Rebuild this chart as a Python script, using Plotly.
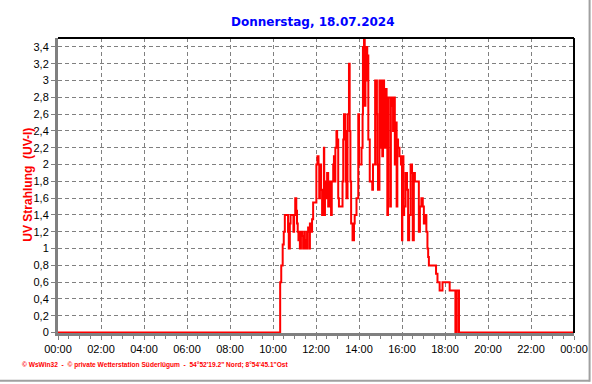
import plotly.graph_objects as go

# ---- data -------------------------------------------------------------
times = ["00:00", "10:20", "10:23", "10:27", "10:30", "10:33", "10:42", "10:44", "10:47", "10:49",
         "10:57", "10:59", "11:02", "11:05", "11:07", "11:09", "11:11", "11:13", "11:15", "11:18",
         "11:21", "11:24", "11:27", "11:29", "11:32", "11:35", "11:38", "11:41", "11:43", "11:46",
         "11:49", "11:52", "12:01", "12:04", "12:07", "12:09", "12:11", "12:14", "12:17", "12:22",
         "12:23", "12:25", "12:28", "12:31", "12:34", "12:37", "12:39", "12:42", "12:44", "12:48",
         "12:50", "12:52", "12:54", "12:57", "12:59", "13:02", "13:04", "13:10", "13:14", "13:16",
         "13:18", "13:21", "13:23", "13:25", "13:28", "13:32", "13:34", "13:36", "13:38", "13:42",
         "13:46", "13:48", "13:53", "13:58", "14:00", "14:04", "14:07", "14:10", "14:11", "14:14",
         "14:16", "14:18", "14:20", "14:23", "14:25", "14:26", "14:30", "14:33", "14:37", "14:39",
         "14:45", "14:48", "14:50", "14:51", "14:53", "14:57", "15:01", "15:03", "15:05", "15:07",
         "15:10", "15:13", "15:17", "15:19", "15:21", "15:23", "15:27", "15:29", "15:33", "15:35",
         "15:38", "15:40", "15:42", "15:45", "15:47", "15:49", "15:53", "15:57", "16:00", "16:01",
         "16:04", "16:06", "16:10", "16:14", "16:17", "16:20", "16:24", "16:28", "16:30", "16:33",
         "16:36", "16:40", "16:47", "16:50", "16:54", "16:58", "17:01", "17:04", "17:08", "17:11",
         "17:13", "17:15", "17:35", "17:39", "17:45", "17:53", "18:13", "18:29", "18:33", "18:39",
         "24:00"]
uv = [0.0, 0.6, 0.8, 1.05, 1.2, 1.4, 1.2, 1.0, 1.3, 1.4,
      1.2, 1.4, 1.6, 1.45, 1.3, 1.2, 1.1, 1.2, 1.0, 1.2,
      1.15, 1.0, 1.2, 1.1, 1.0, 1.2, 1.25, 1.0, 1.3, 1.2,
      1.35, 1.55, 2.0, 2.1, 2.0, 1.6, 2.0, 1.7, 1.4, 2.2,
      1.4, 1.8, 1.6, 1.9, 1.5, 1.8, 1.7, 1.4, 1.8, 2.0,
      2.1, 1.8, 2.2, 2.4, 2.3, 1.6, 1.5, 1.5, 1.8, 2.3,
      2.6, 2.4, 1.8, 1.6, 2.6, 3.2, 2.4, 1.8, 1.3, 1.1,
      1.3, 1.4, 1.6, 2.6, 2.0, 2.0, 2.2, 2.6, 3.4, 3.5,
      2.7, 3.4, 3.4, 3.0, 3.3, 2.3, 1.8, 1.8, 1.7, 2.0,
      3.0, 3.0, 2.6, 2.0, 1.7, 3.0, 2.2, 3.0, 2.1, 3.0,
      2.2, 2.9, 2.2, 1.4, 2.8, 2.8, 1.5, 2.8, 2.7, 2.4,
      2.8, 2.0, 2.5, 1.5, 2.3, 2.2, 2.1, 2.0, 1.1, 2.1,
      1.4, 1.5, 1.9, 1.7, 1.1, 1.4, 2.0, 1.9, 1.1, 1.9,
      1.8, 1.8, 1.2, 1.5, 1.6, 1.5, 1.3, 1.4, 1.2, 1.0,
      0.9, 0.8, 0.7, 0.6, 0.5, 0.6, 0.5, 0.0, 0.5, 0.0,
      0.0]

x_tick_labels = ["00:00", "02:00", "04:00", "06:00", "08:00", "10:00", "12:00",
                 "14:00", "16:00", "18:00", "20:00", "22:00", "00:00"]
y_tick_values = [0, 0.2, 0.4, 0.6, 0.8, 1.0, 1.2, 1.4, 1.6, 1.8, 2.0, 2.2, 2.4,
                 2.6, 2.8, 3.0, 3.2, 3.4]
y_tick_labels = ["0", "0,2", "0,4", "0,6", "0,8", "1", "1,2", "1,4", "1,6", "1,8",
                 "2", "2,2", "2,4", "2,6", "2,8", "3", "3,2", "3,4"]

title_text = "Donnerstag, 18.07.2024"
y_title = "UV Strahlung  (UV-I)"
footer = "© WsWin32  -  © private Wetterstation Süderlügum  -  54°52'19.2\" Nord; 8°54'45.1\"Ost"


def to_min(t):
    h, m = t.split(":")
    return int(h) * 60 + int(m)


x = [to_min(t) for t in times]
x_tick_values = [i * 120 for i in range(len(x_tick_labels))]

# ---- figure -----------------------------------------------------------
fig = go.Figure()
fig.add_trace(go.Scatter(x=x, y=uv, mode="lines", line=dict(color="#ff0000", width=2, shape="hv"),
                         hoverinfo="skip", showlegend=False))

grid_col = "#808080"
font = "Liberation Sans, Arial, sans-serif"

fig.update_layout(
    width=592, height=384,
    margin=dict(l=58, r=18, t=38, b=51, autoexpand=False),
    paper_bgcolor="white", plot_bgcolor="white",
    font=dict(family=font, size=11, color="black"),
    showlegend=False,
)
fig.update_xaxes(
    range=[0, 1440], tickmode="array", tickvals=x_tick_values, ticktext=x_tick_labels,
    showgrid=True, gridcolor=grid_col, griddash="4px,3px", gridwidth=1,
    showline=True, linecolor=grid_col, linewidth=3,
    ticks="outside", ticklen=4, tickcolor=grid_col, tickwidth=1,
    minor=dict(tickmode="linear", tick0=0, dtick=30, ticks="outside", ticklen=3,
               tickcolor=grid_col, showgrid=False),
    zeroline=False, layer="below traces", automargin=False,
    tickfont=dict(family=font, size=11, color="black"),
)
fig.update_yaxes(
    range=[-0.005, 3.507], tickmode="array", tickvals=y_tick_values, ticktext=y_tick_labels,
    showgrid=True, gridcolor=grid_col, griddash="4px,3px", gridwidth=1,
    showline=True, linecolor=grid_col, linewidth=3,
    ticks="outside", ticklen=4, tickcolor=grid_col, tickwidth=1,
    zeroline=False, layer="below traces", automargin=False,
    tickfont=dict(family=font, size=11, color="black"),
)

# top / right black frame of the plot area
fig.add_shape(type="line", xref="paper", yref="paper", x0=0, x1=1, y0=1, y1=1,
              line=dict(color="black", width=2), layer="above")
fig.add_shape(type="line", xref="paper", yref="paper", x0=1, x1=1, y0=0, y1=1,
              line=dict(color="black", width=2), layer="above")
# outer picture frame (right / bottom)
fig.add_shape(type="line", xref="paper", yref="paper", x0=1.0302, x1=1.0302, y0=-0.165, y1=1.13,
              line=dict(color="#a0a0a0", width=2), layer="above")
fig.add_shape(type="line", xref="paper", yref="paper", x0=-0.12, x1=1.0302, y0=-0.1615, y1=-0.1615,
              line=dict(color="#a0a0a0", width=2), layer="above")

fig.add_annotation(text="<b>" + title_text + "</b>", xref="paper", yref="paper",
                   x=0.494, y=1.055, xanchor="center", yanchor="middle", showarrow=False,
                   font=dict(family="DejaVu Sans, sans-serif", size=12, color="#0000ff"))
fig.add_annotation(text="<b>" + y_title + "</b>", xref="paper", yref="paper",
                   x=-0.058, y=0.503, xanchor="center", yanchor="middle", textangle=-90,
                   showarrow=False, font=dict(family=font, size=12, color="#ff0000"))
fig.add_annotation(text="<b>" + footer + "</b>", xref="paper", yref="paper",
                   x=-0.074, y=-0.11, xanchor="left", yanchor="middle", showarrow=False,
                   font=dict(family=font, size=6.6, color="#ff0000"))

fig.write_html("out.html")
